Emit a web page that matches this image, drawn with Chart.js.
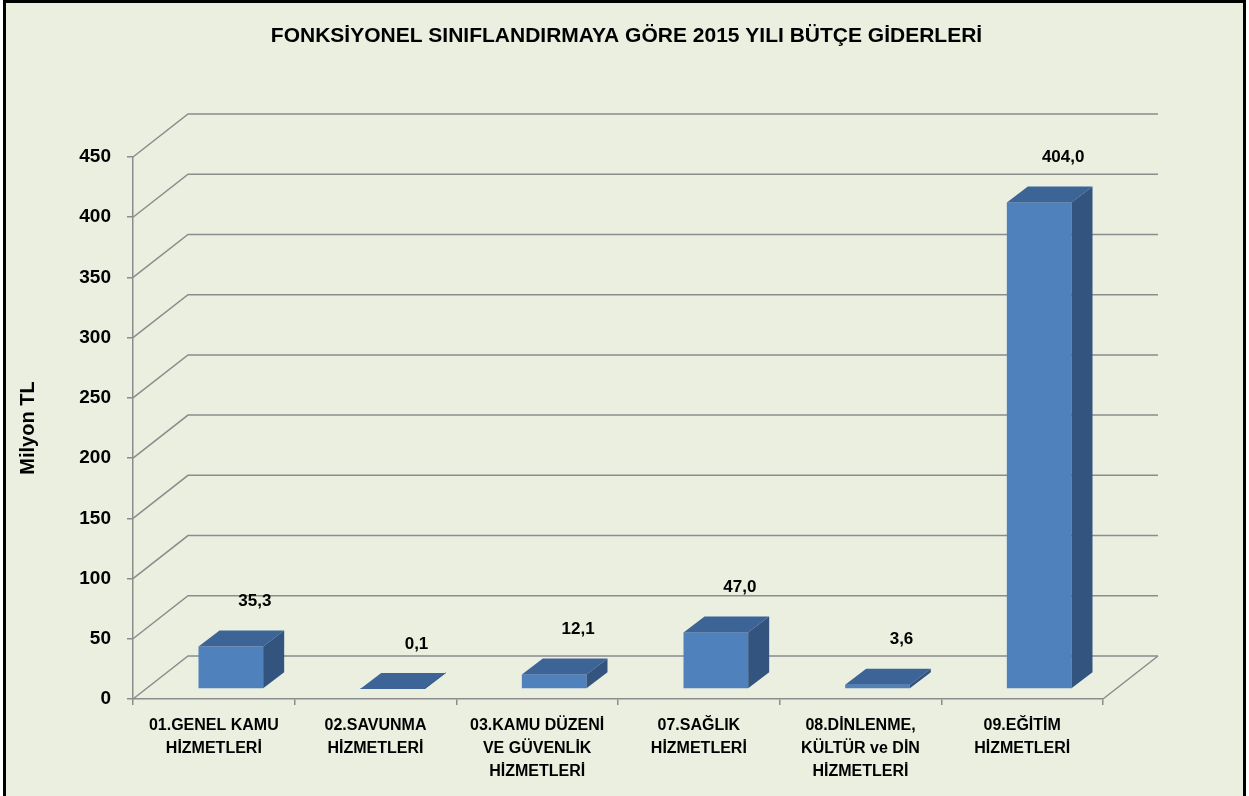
<!DOCTYPE html>
<html>
<head>
<meta charset="utf-8">
<script src="https://cdn.jsdelivr.net/npm/chart.js@4.4.1/dist/chart.umd.min.js"></script>
<style>
  html, body { margin: 0; padding: 0; background: #fff; }
  #wrap { width: 1249px; height: 796px; }
</style>
</head>
<body>
<div id="wrap"><canvas id="chart-budget" width="1249" height="796"></canvas></div>
<script>
// ── Data ──────────────────────────────────────────────────────
const categories = [
  ['01.GENEL KAMU', 'HİZMETLERİ'],
  ['02.SAVUNMA', 'HİZMETLERİ'],
  ['03.KAMU DÜZENİ', 'VE GÜVENLİK', 'HİZMETLERİ'],
  ['07.SAĞLIK', 'HİZMETLERİ'],
  ['08.DİNLENME,', 'KÜLTÜR ve DİN', 'HİZMETLERİ'],
  ['09.EĞİTİM', 'HİZMETLERİ']
];
const values = [35.3, 0.1, 12.1, 47.0, 3.6, 404.0];
const yMin = 0, yMax = 450, yStep = 50;
const TITLE = 'FONKSİYONEL SINIFLANDIRMAYA GÖRE 2015 YILI BÜTÇE GİDERLERİ';

// ── Style ─────────────────────────────────────────────────────
const FONT = "'Liberation Sans', Arial, sans-serif";
const COLORS = {
  bg: '#EBEFE0',
  grid: '#8C8C8C',
  front: '#4F81BD',
  top: '#3C6497',
  side: '#32547F',
  text: '#000'
};
const WALL = { dx: 55, dy: -43 };       // depth of the back wall
const BAR_SHIFT = { dx: 17, dy: -10 };  // bars sit a bit into the floor
const BAR_DEPTH = { dx: 21, dy: -16 };  // box depth of a bar

const fmt = v => v.toFixed(1).replace('.', ',');

// ── 3D look drawn around Chart.js scales ──────────────────────
const frame3d = {
  id: 'frame3d',
  beforeDraw(chart) {
    const ctx = chart.ctx;
    ctx.save();
    ctx.fillStyle = COLORS.bg;
    ctx.fillRect(4, 1, 1241, 800);
    ctx.strokeStyle = '#000';
    ctx.lineWidth = 3;
    ctx.strokeRect(4.5, 1.5, 1240, 800);
    // title, centred on the whole frame
    ctx.fillStyle = COLORS.text;
    ctx.font = 'bold 21px ' + FONT;
    ctx.textAlign = 'center';
    ctx.textBaseline = 'middle';
    ctx.fillText(TITLE, chart.width / 2 + 2, 36);
    ctx.restore();
  },
  beforeDatasetsDraw(chart) {
    const { ctx, chartArea: a, scales: { y } } = chart;
    ctx.save();
    ctx.strokeStyle = COLORS.grid;
    ctx.lineWidth = 1.5;
    y.ticks.forEach(t => {
      const py = y.getPixelForValue(t.value);
      ctx.beginPath();
      ctx.moveTo(a.left, py);
      ctx.lineTo(a.left + WALL.dx, py + WALL.dy);
      ctx.lineTo(a.right + WALL.dx, py + WALL.dy);
      ctx.stroke();
    });
    // floor right edge
    ctx.beginPath();
    ctx.moveTo(a.right, a.bottom);
    ctx.lineTo(a.right + WALL.dx, a.bottom + WALL.dy);
    ctx.stroke();
    ctx.restore();
  },
  afterDatasetsDraw(chart) {
    const ctx = chart.ctx;
    const bars = chart.getDatasetMeta(0).data;
    ctx.save();
    bars.forEach((bar, i) => {
      const { x, y, base, width } = bar.getProps(['x', 'y', 'base', 'width'], true);
      const l = x - width / 2 + BAR_SHIFT.dx;
      const r = x + width / 2 + BAR_SHIFT.dx;
      const t = y + BAR_SHIFT.dy;
      const b = base + BAR_SHIFT.dy;
      const dx = BAR_DEPTH.dx, dy = BAR_DEPTH.dy;

      ctx.fillStyle = COLORS.front;
      ctx.fillRect(l, t, r - l, b - t);

      ctx.fillStyle = COLORS.top;
      ctx.beginPath();
      ctx.moveTo(l, t); ctx.lineTo(r, t);
      ctx.lineTo(r + dx, t + dy); ctx.lineTo(l + dx, t + dy);
      ctx.closePath(); ctx.fill();

      ctx.fillStyle = COLORS.side;
      ctx.beginPath();
      ctx.moveTo(r, t); ctx.lineTo(r + dx, t + dy);
      ctx.lineTo(r + dx, b + dy); ctx.lineTo(r, b);
      ctx.closePath(); ctx.fill();

      // value label
      ctx.fillStyle = COLORS.text;
      ctx.font = 'bold 17px ' + FONT;
      ctx.textAlign = 'center';
      ctx.textBaseline = 'middle';
      ctx.fillText(fmt(values[i]), (l + r) / 2 + 24, t - 45);
    });
    ctx.restore();
  }
};

new Chart(document.getElementById('chart-budget'), {
  type: 'bar',
  data: {
    labels: categories,
    datasets: [{
      data: values,
      backgroundColor: 'rgba(0,0,0,0)',
      borderWidth: 0,
      categoryPercentage: 1.0,
      barPercentage: 0.4
    }]
  },
  options: {
    responsive: false,
    animation: false,
    devicePixelRatio: 1,
    layout: { padding: { left: 12, right: 146, top: 157, bottom: 0 } },
    plugins: {
      legend: { display: false },
      tooltip: { enabled: false },
      title: { display: false }
    },
    scales: {
      x: {
        offset: true,
        grid: { offset: true, drawOnChartArea: false, drawTicks: true, tickLength: 6, color: COLORS.grid, lineWidth: 1.5 },
        border: { display: true, color: COLORS.grid, width: 1.5 },
        ticks: {
          color: COLORS.text,
          font: { family: FONT, size: 16, weight: 'bold', lineHeight: 1.44 },
          padding: 9,
          maxRotation: 0,
          autoSkip: false
        },
        afterFit(scale) { scale.height = 97; }
      },
      y: {
        min: yMin,
        max: yMax,
        ticks: {
          stepSize: yStep,
          color: COLORS.text,
          font: { family: FONT, size: 19, weight: 'bold' },
          padding: 16
        },
        grid: { drawOnChartArea: false, drawTicks: true, tickLength: 6, color: COLORS.grid, lineWidth: 1.5 },
        border: { display: true, color: COLORS.grid, width: 1.5 },
        title: {
          display: true,
          text: 'Milyon TL',
          color: COLORS.text,
          font: { family: FONT, size: 20, weight: 'bold', lineHeight: 1.2 },
          padding: { top: 4, bottom: 4 }
        },
        afterFit(scale) { scale.width = 121; }
      }
    }
  },
  plugins: [frame3d]
});
</script>
</body>
</html>
